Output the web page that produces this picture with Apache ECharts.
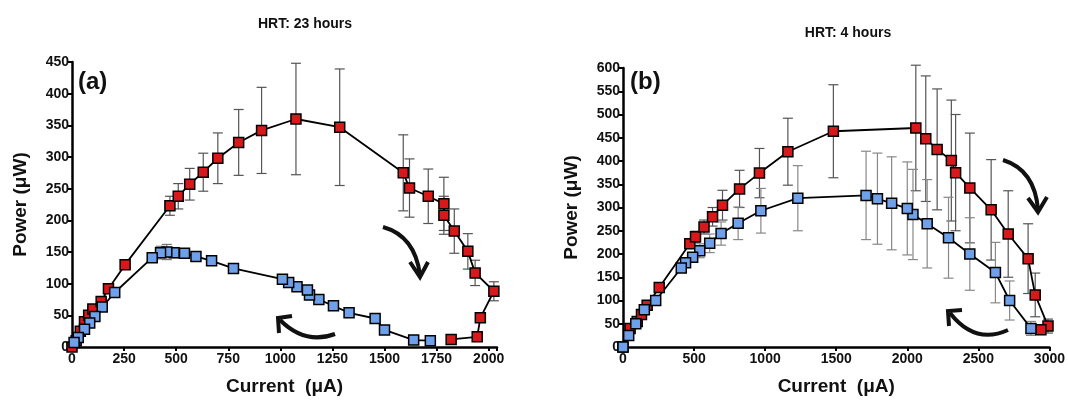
<!DOCTYPE html>
<html>
<head>
<meta charset="UTF-8">
<script src="https://cdn.jsdelivr.net/npm/echarts@6/dist/echarts.min.js"></script>
<style>html,body{margin:0;background:#fff}#c{width:1068px;height:401px}</style>
</head>
<body>
<div id="c"></div>
<script>
// panel (a): HRT 23 hours
var aRedX = [0,20,40,60,80,100,140,175,255,470,510,565,630,700,800,910,1075,1285,1590,1620,1710,1785,1785,1835,1900,1935,2025,1960,1945,1820];
var aRedY = [0,10,25,40,50,60,72,92,130,223,238,257,276,298,323,342,360,347,275,251,238,226,208,183,151,117,88,46,16,12];
var aRedE = [0,0,0,0,0,0,0,0,0,15,20,25,30,40,52,68,88,92,60,46,43,42,30,35,28,20,15,0,0,0];
var aBlueX = [1720,1640,1500,1455,1330,1255,1185,1140,1130,1080,1040,1010,775,670,595,540,490,455,425,385,205,145,110,85,60,30,10];
var aBlueY = [10,11,27,45,54,65,75,82,90,95,102,107,124,136,143,148,149,150,149,141,86,63,48,38,28,15,7];
var aBlueE = [0,0,0,0,0,0,0,0,0,0,0,0,0,0,0,0,8,12,10,6,0,0,0,0,0,0,0];
// panel (b): HRT 4 hours
var bRedX = [0,50,100,130,170,255,470,510,570,630,700,820,960,1160,1480,2060,2130,2210,2310,2340,2440,2590,2710,2850,2900,2990,2940];
var bRedY = [0,40,55,70,90,128,222,237,258,280,305,340,374,420,464,471,448,425,401,375,342,295,243,190,112,45,37];
var bRedE = [0,0,0,0,0,0,0,12,15,20,32,40,53,72,100,135,135,130,130,125,118,108,93,75,47,15,10];
var bBlueX = [2870,2720,2620,2440,2290,2140,2040,2000,1890,1790,1710,1230,970,810,690,610,540,490,440,410,230,150,90,40,0];
var bBlueY = [40,100,160,200,235,265,285,298,309,319,326,320,293,266,244,223,207,193,181,170,100,80,50,25,0];
var bBlueE = [15,42,65,78,87,95,97,100,100,98,95,70,48,35,25,20,15,0,0,0,0,0,0,0,0];

var RED = '#d7191c', BLUE = '#6fa0ea';
var FONT = 'Liberation Sans';

function pts(xs, ys) { return xs.map(function (x, i) { return [x, ys[i]]; }); }
function errs(xs, ys, es) {
    var out = [];
    xs.forEach(function (x, i) { if (es[i] > 0) out.push([x, ys[i] - es[i], ys[i] + es[i]]); });
    return out;
}
function errSeries(idx, data, color) {
    return {
        type: 'custom', xAxisIndex: idx, yAxisIndex: idx, data: data, z: 1, silent: true,
        renderItem: function (params, api) {
            var lo = api.coord([api.value(0), api.value(1)]);
            var hi = api.coord([api.value(0), api.value(2)]);
            var st = {stroke: color, lineWidth: 1.2};
            return {type: 'group', children: [
                {type: 'line', shape: {x1: lo[0], y1: lo[1], x2: hi[0], y2: hi[1]}, style: st},
                {type: 'line', shape: {x1: lo[0] - 5, y1: lo[1], x2: lo[0] + 5, y2: lo[1]}, style: st},
                {type: 'line', shape: {x1: hi[0] - 5, y1: hi[1], x2: hi[0] + 5, y2: hi[1]}, style: st}
            ]};
        }
    };
}
function lineSeries(idx, data, color) {
    return {
        type: 'line', xAxisIndex: idx, yAxisIndex: idx, data: data, z: 3,
        symbol: 'rect', symbolSize: 10, clip: false,
        lineStyle: {color: '#000', width: 1.8},
        itemStyle: {color: color, borderColor: '#000', borderWidth: 1.5}
    };
}
function xAxis(idx, max, step) {
    return {
        type: 'value', gridIndex: idx, min: 0, max: max, interval: step,
        name: 'Current  (\u03bcA)', nameLocation: 'middle', nameGap: 30,
        nameTextStyle: {fontFamily: FONT, fontWeight: 'bold', fontSize: 19, color: '#111'},
        axisLine: {lineStyle: {color: '#000', width: 2.5}},
        axisTick: {length: 4, lineStyle: {width: 2}},
        axisLabel: {fontFamily: FONT, fontWeight: 'bold', fontSize: 14, color: '#111', margin: 5,
            formatter: function (v) { return v % step === 0 ? v : ''; }},
        splitLine: {show: false}
    };
}
function yAxis(idx, max) {
    return {
        type: 'value', gridIndex: idx, min: 0, max: max, interval: 50,
        name: 'Power (\u03bcW)', nameLocation: 'middle', nameGap: 42,
        nameTextStyle: {fontFamily: FONT, fontWeight: 'bold', fontSize: 19, color: '#111'},
        axisLine: {show: true, lineStyle: {color: '#000', width: 2.5}},
        axisTick: {show: true, length: 4, lineStyle: {width: 2}},
        axisLabel: {fontFamily: FONT, fontWeight: 'bold', fontSize: 14, color: '#111', margin: 3},
        splitLine: {show: false}
    };
}
// curved arrow: bezier from p1 to p2 with one control point, plus a head
function arrow(x1, y1, cx, cy, x2, y2, head) {
    return [
        {type: 'bezierCurve', shape: {x1: x1, y1: y1, x2: x2, y2: y2, cpx1: cx, cpy1: cy},
         style: {stroke: '#111', lineWidth: 4, fill: null}},
        {type: 'polyline', shape: {points: head}, style: {stroke: '#111', lineWidth: 4, fill: null}}
    ];
}

var chart = echarts.init(document.getElementById('c'));
chart.setOption({
    animation: false,
    title: [
        {text: 'HRT: 23 hours', left: 300, top: 12, textAlign: 'center',
         textStyle: {fontFamily: FONT, fontWeight: 'bold', fontSize: 14, color: '#111'}},
        {text: 'HRT: 4 hours', left: 843, top: 21, textAlign: 'center',
         textStyle: {fontFamily: FONT, fontWeight: 'bold', fontSize: 14, color: '#111'}}
    ],
    grid: [
        {left: 72, right: 571, top: 62, bottom: 53},
        {left: 623, right: 16, top: 68, bottom: 53}
    ],
    xAxis: [xAxis(0, 2040, 250), xAxis(1, 3000, 500)],
    yAxis: [yAxis(0, 450), yAxis(1, 600)],
    series: [
        errSeries(0, errs(aRedX, aRedY, aRedE), '#555'),
        errSeries(0, errs(aBlueX, aBlueY, aBlueE), '#777'),
        lineSeries(0, pts(aRedX, aRedY), RED),
        lineSeries(0, pts(aBlueX, aBlueY), BLUE),
        errSeries(1, errs(bRedX, bRedY, bRedE), '#555'),
        errSeries(1, errs(bBlueX, bBlueY, bBlueE), '#888'),
        lineSeries(1, pts(bRedX, bRedY), RED),
        lineSeries(1, pts(bBlueX, bBlueY), BLUE)
    ],
    graphic: [
        {type: 'text', x: 78, y: 70, style: {text: '(a)', fontFamily: FONT, fontWeight: 'bold', fontSize: 24, fill: '#111'}},
        {type: 'text', x: 630, y: 70, style: {text: '(b)', fontFamily: FONT, fontWeight: 'bold', fontSize: 24, fill: '#111'}}
    ].concat(
        arrow(383, 227, 415, 236, 420, 275, [[410,262],[420,277],[428,262]]),
        arrow(335, 334, 305, 345, 280, 320, [[279,333],[278,318],[292,316]]),
        arrow(1003, 160, 1035, 170, 1038, 210, [[1028,198],[1038,212],[1047,197]]),
        arrow(1008, 330, 975, 345, 950, 313, [[949,326],[948,311],[962,310]])
    )
});
</script>
</body>
</html>
